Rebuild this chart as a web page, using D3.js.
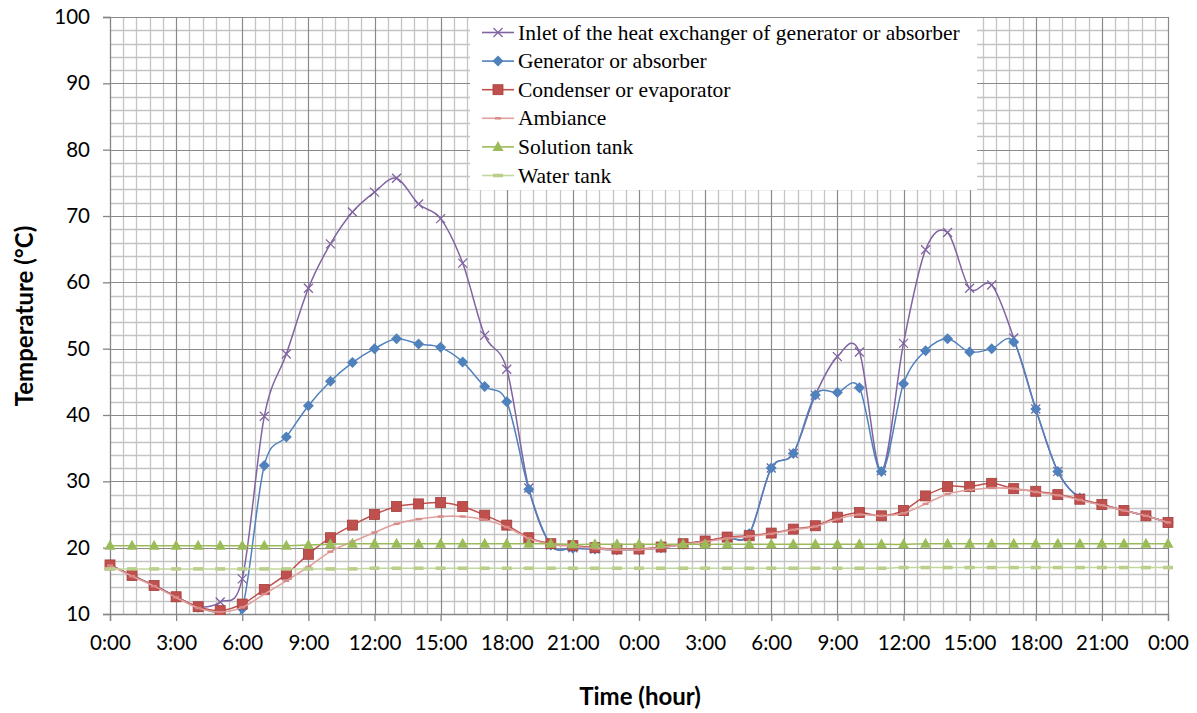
<!DOCTYPE html>
<html>
<head>
<meta charset="utf-8">
<script src="https://cdn.jsdelivr.net/npm/d3@7"></script>
<style>
  body { margin: 0; background: #fff; }
  svg { display: block; }
</style>
</head>
<body>
<svg id="drawing_region"></svg>
<script>
// hourly readings, 0:00 day 1 -> 0:00 day 3
var hours = d3.range(0, 49);
var xTickLabels = ['0:00','3:00','6:00','9:00','12:00','15:00','18:00','21:00',
                   '0:00','3:00','6:00','9:00','12:00','15:00','18:00','21:00','0:00'];
var yTicks = [10, 20, 30, 40, 50, 60, 70, 80, 90, 100];

var inlet = [17.4,15.8,14.3,12.6,11.1,11.8,15.3,39.8,49.2,59.1,65.8,70.6,73.6,75.7,71.8,69.6,62.9,52.0,46.9,29.0,
             20.4,20.0,19.8,19.7,19.7,20.0,20.5,21.0,21.5,22.0,32.0,34.2,43.0,48.8,49.5,31.6,50.8,64.9,67.5,59.1,
             59.6,51.6,40.9,31.5,27.5,26.5,25.6,24.8,23.8];
var generator = [17.4,15.8,14.3,12.6,11.0,10.2,10.8,32.4,36.7,41.4,45.1,47.9,50.0,51.5,50.7,50.2,48.0,44.3,42.0,28.8,
                 20.4,19.9,19.8,19.7,19.7,20.0,20.5,21.0,21.5,22.1,32.0,34.2,43.0,43.4,44.1,31.5,44.7,49.7,51.5,49.5,
                 50.0,51.0,40.9,31.5,27.5,26.5,25.6,24.8,23.8];
var condenser = [17.4,15.8,14.3,12.6,11.1,10.5,11.5,13.7,16.0,19.0,21.5,23.4,25.0,26.2,26.6,26.8,26.2,24.9,23.4,21.5,
                 20.6,20.3,20.0,19.8,19.8,20.1,20.6,21.0,21.6,21.8,22.2,22.8,23.3,24.6,25.3,24.8,25.6,27.8,29.2,29.2,
                 29.7,28.9,28.5,28.0,27.3,26.5,25.6,24.8,23.8];
var ambiance = [17.3,15.7,14.2,12.5,10.9,10.3,11.0,13.0,15.0,17.1,19.4,20.9,22.3,23.6,24.3,24.7,24.7,24.2,23.1,21.4,
                20.5,20.2,19.9,19.7,19.7,20.0,20.5,20.9,21.4,21.7,22.1,22.7,23.2,24.3,25.0,24.8,25.2,26.6,28.1,28.7,
                29.0,28.9,28.4,27.9,27.2,26.4,25.6,24.8,23.8];
var solutionTank = [20.3,20.3,20.3,20.3,20.3,20.3,20.3,20.3,20.3,20.4,20.5,20.6,20.6,20.6,20.6,20.6,20.6,20.6,20.6,20.6,
                    20.6,20.5,20.5,20.5,20.5,20.5,20.5,20.5,20.5,20.5,20.5,20.5,20.5,20.5,20.5,20.5,20.5,20.6,20.6,20.6,
                    20.6,20.6,20.6,20.6,20.6,20.6,20.6,20.6,20.6];
var waterTank = [16.8,16.8,16.8,16.8,16.8,16.8,16.8,16.8,16.8,16.8,16.8,16.8,16.9,16.9,16.9,16.9,16.9,16.9,16.9,16.9,
                 16.9,16.9,16.9,16.9,16.9,16.9,16.9,16.9,16.9,16.9,16.9,16.9,16.9,16.9,16.9,16.9,17.0,17.0,17.0,17.0,
                 17.0,17.0,17.0,17.0,17.0,17.0,17.0,17.0,17.0];

var seriesNames = ['Inlet of the heat exchanger of generator or absorber','Generator or absorber',
                   'Condenser or evaporator','Ambiance','Solution tank','Water tank'];
var seriesValues = [inlet, generator, condenser, ambiance, solutionTank, waterTank];
var seriesColors = ['#8064a2','#4f81bd','#c0504d','#e0a09e','#9bbb59','#c3d69b'];
var seriesMarkers = ['x','diamond','square','dash','triangle','dash'];

var width = 1197, height = 713;
var margin = {left: 110, right: 29, top: 17, bottom: 99};

var svg = d3.select('#drawing_region')
    .attr('width', width)
    .attr('height', height);

var x = d3.scaleLinear().domain([0, 48]).range([margin.left, width - margin.right]);
var y = d3.scaleLinear().domain([10, 100]).range([height - margin.bottom, margin.top]);

svg.append('clipPath').attr('id', 'plotclip')
  .append('rect')
    .attr('x', x(0) - 8).attr('y', y(100))
    .attr('width', x(48) - x(0) + 16).attr('height', y(10) - y(100) + 1);

// grid: minor every 2 deg / every 0.6 h, major every 10 deg / every 3 h
var grid = svg.append('g');
grid.selectAll('.hminor')
    .data(d3.range(12, 100, 2).filter(v => v % 10 != 0))
    .enter().append('line')
    .attr('x1', x(0)).attr('x2', x(48))
    .attr('y1', d => Math.round(y(d)) + 0.5).attr('y2', d => Math.round(y(d)) + 0.5)
    .attr('stroke', '#c4c4c4').attr('stroke-width', 1.3);
grid.selectAll('.vminor')
    .data(d3.range(0, 80).filter(i => i % 5 != 0).map(i => i * 0.6))
    .enter().append('line')
    .attr('x1', d => Math.round(x(d)) + 0.5).attr('x2', d => Math.round(x(d)) + 0.5)
    .attr('y1', y(10)).attr('y2', y(100))
    .attr('stroke', '#c4c4c4').attr('stroke-width', 1.3);
grid.selectAll('.hmajor')
    .data(yTicks.slice(1))
    .enter().append('line')
    .attr('x1', x(0)).attr('x2', x(48))
    .attr('y1', d => Math.round(y(d)) + 0.5).attr('y2', d => Math.round(y(d)) + 0.5)
    .attr('stroke', '#8a8a8a').attr('stroke-width', 1.2);
grid.selectAll('.vmajor')
    .data(d3.range(3, 49, 3))
    .enter().append('line')
    .attr('x1', d => Math.round(x(d)) + 0.5).attr('x2', d => Math.round(x(d)) + 0.5)
    .attr('y1', y(10)).attr('y2', y(100))
    .attr('stroke', '#8a8a8a').attr('stroke-width', 1.2);

// axes
var yAxis = d3.axisLeft(y).tickValues(yTicks).tickSize(7).tickPadding(13);
var xAxis = d3.axisBottom(x).tickValues(d3.range(0, 49, 3))
    .tickFormat((d, i) => xTickLabels[i]).tickSize(7).tickPadding(14);

var gy = svg.append('g').attr('transform', `translate(${x(0)},0)`).call(yAxis);
var gx = svg.append('g').attr('transform', `translate(0,${y(10)})`).call(xAxis);
[gx, gy].forEach(g => {
  g.select('.domain').attr('stroke', '#868686').attr('stroke-width', 1.3);
  g.selectAll('.tick line').attr('stroke', '#868686').attr('stroke-width', 1.3);
  g.selectAll('.tick text')
      .attr('fill', '#000')
      .style('font-family', 'Lato, sans-serif')
      .style('font-size', '20.5px');
});

// lines
var line = d3.line()
    .x((d, i) => x(hours[i]))
    .y(d => y(d))
    .curve(d3.curveCatmullRom.alpha(0));

function drawMarker(g, type, color, cx, cy) {
  if (type == 'square') {
    g.append('rect').attr('x', cx - 5).attr('y', cy - 5).attr('width', 10).attr('height', 10)
        .attr('fill', color).attr('stroke', '#a33f3c').attr('stroke-width', 0.8);
  } else if (type == 'diamond') {
    g.append('path').attr('d', `M${cx},${cy-5.5}L${cx+5.5},${cy}L${cx},${cy+5.5}L${cx-5.5},${cy}Z`)
        .attr('fill', color);
  } else if (type == 'triangle') {
    g.append('path').attr('d', `M${cx},${cy-6}L${cx+5.5},${cy+4}L${cx-5.5},${cy+4}Z`)
        .attr('fill', color);
  } else if (type == 'x') {
    g.append('path').attr('d', `M${cx-4.5},${cy-4.5}L${cx+4.5},${cy+4.5}M${cx-4.5},${cy+4.5}L${cx+4.5},${cy-4.5}`)
        .attr('stroke', color).attr('stroke-width', 1.3).attr('fill', 'none');
  } else if (type == 'dash') {
    g.append('rect').attr('x', cx - 5).attr('y', cy - 1.8).attr('width', 10).attr('height', 3.6)
        .attr('fill', color);
  }
}

var plot = svg.append('g').attr('clip-path', 'url(#plotclip)');
seriesValues.forEach((vals, s) => {
  var g = plot.append('g');
  g.append('path')
      .datum(vals)
      .attr('d', line)
      .attr('fill', 'none')
      .attr('stroke', seriesColors[s])
      .attr('stroke-width', s == 3 ? 1.6 : 1.5);
  vals.forEach((v, i) => {
    var mColor = s == 3 ? '#d88a88' : seriesColors[s];
    if (s == 3) {
      g.append('rect').attr('x', x(hours[i]) - 3).attr('y', y(v) - 1.2)
          .attr('width', 6).attr('height', 2.4).attr('fill', mColor);
    } else {
      drawMarker(g, seriesMarkers[s], s == 5 ? '#b9d08c' : mColor, x(hours[i]), y(v));
    }
  });
});

// legend
var legend = svg.append('g');
legend.append('rect')
    .attr('x', 470).attr('y', 18).attr('width', 507).attr('height', 172)
    .attr('fill', '#fff');
seriesNames.forEach((name, s) => {
  var ly = 32.5 + s * 28.6;
  var row = legend.append('g');
  row.append('line')
      .attr('x1', 482).attr('x2', 514).attr('y1', ly).attr('y2', ly)
      .attr('stroke', seriesColors[s]).attr('stroke-width', 1.6);
  if (s == 3) {
    row.append('rect').attr('x', 495).attr('y', ly - 1.2).attr('width', 6).attr('height', 2.4).attr('fill', '#d88a88');
  } else {
    drawMarker(row, seriesMarkers[s], s == 5 ? '#b9d08c' : seriesColors[s], 498, ly);
  }
  row.append('text')
      .attr('x', 518).attr('y', ly + 7)
      .style('font-family', '"Liberation Serif", serif')
      .style('font-size', '21.5px')
      .attr('fill', '#000')
      .text(name);
});

// axis titles
svg.append('text')
    .attr('x', 640).attr('y', 705)
    .attr('text-anchor', 'middle')
    .style('font-family', 'Lato, sans-serif')
    .style('font-weight', 'bold')
    .style('font-size', '24px')
    .text('Time (hour)');
svg.append('text')
    .attr('transform', 'translate(33,316) rotate(-90)')
    .attr('text-anchor', 'middle')
    .style('font-family', 'Lato, sans-serif')
    .style('font-weight', 'bold')
    .style('font-size', '24px')
    .text('Temperature (°C)');
</script>
</body>
</html>
